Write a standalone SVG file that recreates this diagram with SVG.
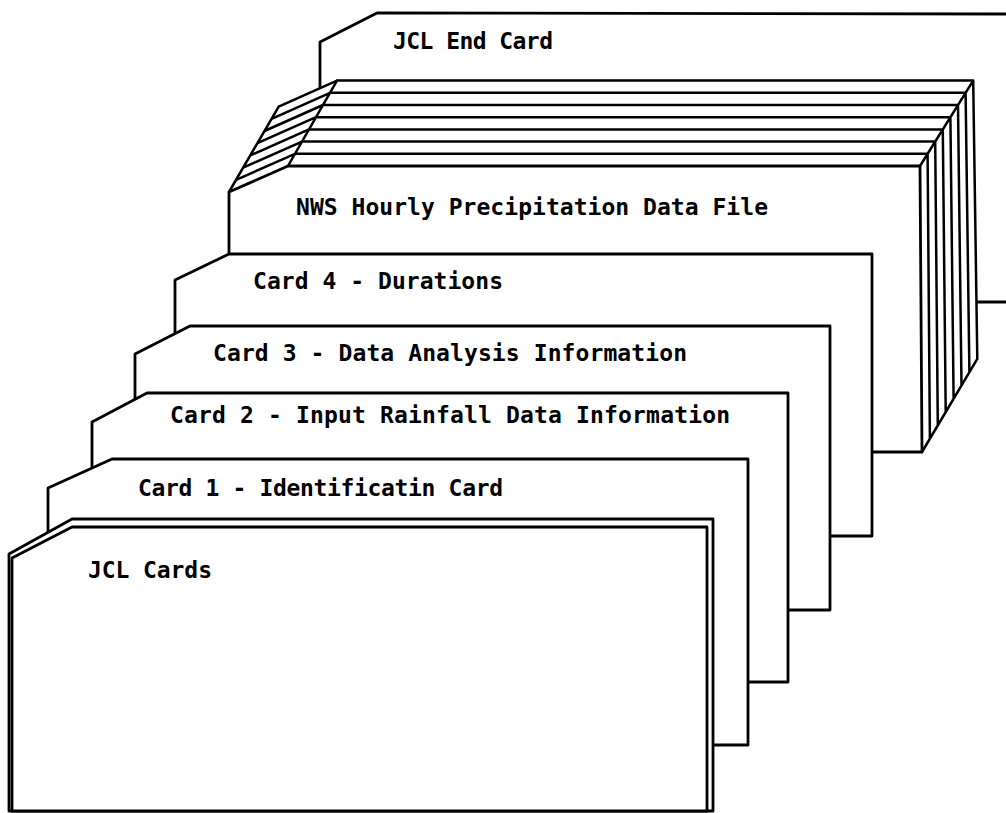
<svg xmlns="http://www.w3.org/2000/svg" width="1006" height="813" viewBox="0 0 1006 813">
<style>
.card{fill:#fff;stroke:#000;stroke-width:2.8;stroke-linejoin:round}
.ln{fill:none;stroke:#000;stroke-width:2.5;stroke-linecap:round}
.sil{fill:#fff;stroke:none}
.t{font-family:"DejaVu Sans Mono","Liberation Mono",monospace;font-size:23px;font-weight:bold;fill:#000}
</style>
<rect width="1006" height="813" fill="#fff"/>
<g id="jcl-end-card">
<path class="card" d="M320,302 L320,42 L377,13 L1012,14 L1012,302 Z"/>
<text class="t" x="393" y="49" textLength="160" lengthAdjust="spacing">JCL End Card</text>
</g>
<g id="nws-data-file">
<path class="sil" d="M229,452 L229,192 L279,107 L337,80 L973,80 L977,359 L922,452 Z"/>
<path class="card" d="M229,452 L229,192 L288,166 L920,166 L922,452 Z"/>
<path class="ln" d="M229,192 L278.7,106.6 M288,166 L337,80.6 M920,166 L973.2,80.6 M922,452 L977.3,358.9
M236.1,179.8 L295,153.8 M243.2,167.6 L302,141.6 M250.3,155.4 L309,129.4 M257.4,143.2 L316,117.2 M264.5,131 L323,105 M271.6,118.8 L330,92.8 M278.7,106.6 L337,80.6
M295,153.8 L927.6,153.8 M302,141.6 L935.2,141.6 M309,129.4 L942.8,129.4 M316,117.2 L950.4,117.2 M323,105 L958,105 M330,92.8 L965.6,92.8 M337,80.6 L973.2,80.6
M927.6,153.8 L929.9,438.7 M935.2,141.6 L937.8,425.4 M942.8,129.4 L945.7,412.1 M950.4,117.2 L953.6,398.8 M958,105 L961.5,385.5 M965.6,92.8 L969.4,372.2 M973.2,80.6 L977.3,358.9"/>
<text class="t" x="296" y="215" textLength="472" lengthAdjust="spacing">NWS Hourly Precipitation Data File</text>
</g>
<g id="card-4">
<path class="card" d="M175,340 L175,280 L229,254 L872,254 L872,536 L175,536 Z"/>
<text class="t" x="253" y="289" textLength="250" lengthAdjust="spacing">Card 4 - Durations</text>
</g>
<g id="card-3">
<path class="card" d="M135,410 L135,354 L190,326 L830,326 L830,610 L135,610 Z"/>
<text class="t" x="213" y="361" textLength="474" lengthAdjust="spacing">Card 3 - Data Analysis Information</text>
</g>
<g id="card-2">
<path class="card" d="M92,480 L92,422 L147,393 L788,393 L788,682 L92,682 Z"/>
<text class="t" x="170" y="423" textLength="560" lengthAdjust="spacing">Card 2 - Input Rainfall Data Information</text>
</g>
<g id="card-1">
<path class="card" d="M48,560 L48,488 L112,459 L748,459 L748,745 L48,745 Z"/>
<text class="t" x="138" y="496" textLength="365" lengthAdjust="spacing">Card 1 - Identificatin Card</text>
</g>
<g id="jcl-cards">
<path class="card" d="M9,811 L9,554 L72,519 L713,519 L713,811 Z"/>
<path class="card" d="M12,811 L12,558 L72,527 L707,527 L707,811 Z"/>
<text class="t" x="88" y="578" textLength="124" lengthAdjust="spacing">JCL Cards</text>
</g>
<g id="connectors"/>
</svg>
